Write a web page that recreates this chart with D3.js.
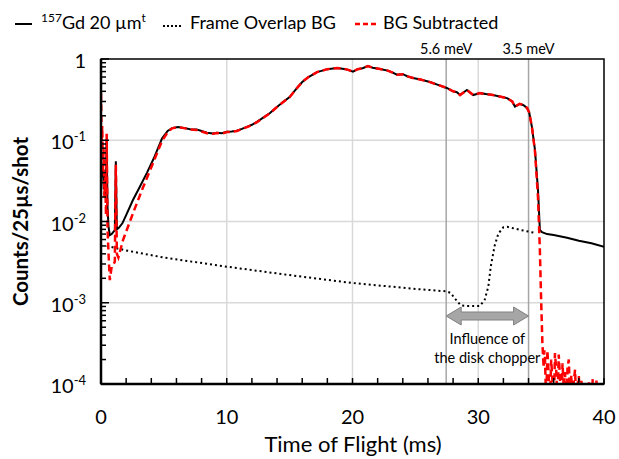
<!DOCTYPE html>
<html><head><meta charset="utf-8">
<script src="https://cdn.jsdelivr.net/npm/d3@7"></script>
<style>
body{margin:0;background:#fff}
text{font-family:Lato,"Open Sans",sans-serif;fill:#000}
</style></head>
<body><svg id="c" width="619" height="459"></svg>
<script>
// ---- data ----
const gdTof = [0.00,0.08,0.15,0.22,0.30,0.38,0.45,0.52,0.60,0.70,0.85,1.00,1.10,1.18,1.26,1.40,1.70,2.00,2.54,3.10,3.66,4.20,4.85,5.30,5.65,6.12,6.60,7.08,7.60,8.00,8.43,8.90,9.22,9.60,10.02,10.40,10.80,11.20,11.60,12.00,12.40,12.90,13.44,13.90,14.47,15.00,15.59,16.00,16.50,17.18,17.60,18.00,18.77,19.20,19.60,20.04,20.40,20.80,21.23,21.60,22.19,22.80,23.20,23.54,24.00,24.40,24.81,25.40,26.16,26.80,27.50,28.00,28.30,28.55,29.10,29.60,30.14,30.60,31.17,31.70,32.29,32.70,32.92,33.30,33.60,33.88,34.05,34.27,34.51,34.75,34.90,35.07,35.47,36.00,37.06,38.00,39.00,40.00];
const gdCounts = [0.060,0.035,0.045,0.025,0.040,0.020,0.10,0.015,0.0085,0.0068,0.0070,0.0075,0.0078,0.055,0.0080,0.0083,0.0095,0.0120,0.0184,0.027,0.040,0.060,0.105,0.130,0.141,0.146,0.142,0.137,0.136,0.130,0.124,0.121,0.124,0.122,0.127,0.128,0.131,0.138,0.146,0.155,0.168,0.190,0.216,0.250,0.295,0.340,0.44,0.52,0.60,0.69,0.72,0.75,0.775,0.76,0.74,0.70,0.75,0.77,0.82,0.78,0.755,0.72,0.68,0.64,0.65,0.61,0.585,0.56,0.52,0.48,0.44,0.40,0.39,0.36,0.415,0.36,0.38,0.37,0.36,0.345,0.33,0.30,0.26,0.28,0.27,0.25,0.22,0.145,0.076,0.0245,0.0079,0.0074,0.0070,0.0068,0.0063,0.0058,0.0054,0.0049];

const bgTof = [0.45,2.0,5.0,10.0,15.0,20.0,25.0,27.5,27.8,28.2,28.6,29.2,30.1,30.5,30.8,31.0,31.3,31.6,32.0,32.3,33.3,34.6];
const bgCounts = [0.0050,0.0044,0.0036,0.00278,0.00219,0.00175,0.00148,0.00138,0.00132,0.00110,0.00093,0.00091,0.00091,0.00107,0.00158,0.00282,0.0050,0.0071,0.0085,0.0086,0.0079,0.0072];

const subTof = [0.00,0.05,0.10,0.15,0.20,0.27,0.33,0.40,0.45,0.52,0.60,0.70,0.85,1.00,1.10,1.18,1.26,1.38,1.75,2.54,3.33,4.13,4.85,5.30,5.65,6.12,6.60,7.08,7.60,8.00,8.43,8.90,9.22,9.60,10.02,10.40,10.80,11.20,11.60,12.00,12.40,12.90,13.44,13.90,14.47,15.00,15.59,16.00,16.50,17.18,17.60,18.00,18.77,19.20,19.60,20.04,20.40,20.80,21.23,21.60,22.19,22.80,23.20,23.54,24.00,24.40,24.81,25.40,26.16,26.80,27.50,28.00,28.30,28.55,29.10,29.60,30.14,30.60,31.17,31.70,32.29,32.70,32.92,33.30,33.60,33.88,34.05,34.27,34.51,34.75,34.90,35.00,35.10,35.20,35.25,35.30,35.40,35.50,35.60,35.70,35.80,35.90,36.00,36.10,36.20,36.30,36.40,36.50,36.60,36.70,36.80,36.90,37.00,37.10,37.20,37.30,37.40,37.50,37.60,37.70,37.80,37.90,38.00,38.10,38.20,38.30,38.40,38.50,38.60,38.70,38.80,38.90,39.00,39.10,39.20,39.30,39.40,39.50,39.60,39.70,39.80,39.90];
const subCounts = [0.38,0.10,0.15,0.04,0.08,0.02,0.035,0.012,0.12,0.008,0.004,0.0019,0.0028,0.0030,0.0032,0.050,0.0040,0.0036,0.0059,0.0126,0.026,0.052,0.098,0.125,0.140,0.145,0.141,0.136,0.134,0.128,0.122,0.120,0.123,0.121,0.126,0.127,0.130,0.137,0.145,0.154,0.167,0.189,0.215,0.249,0.294,0.339,0.44,0.52,0.60,0.69,0.72,0.75,0.775,0.76,0.74,0.70,0.75,0.77,0.82,0.78,0.755,0.72,0.68,0.64,0.65,0.61,0.585,0.56,0.52,0.48,0.44,0.40,0.39,0.36,0.415,0.36,0.38,0.37,0.36,0.345,0.33,0.30,0.26,0.28,0.27,0.25,0.22,0.145,0.073,0.020,0.0045,0.0011,0.00032,0.00016,0.00026,0.00022,0.00006,0.00026,0.00013,0.00005,0.00020,0.00011,0.00004,0.00024,0.00015,0.00006,0.00023,0.00012,0.00003,0.00018,0.00009,0.00014,0.00004,0.00016,0.00020,0.00007,0.00013,0.00003,0.00011,0.00015,0.00005,0.00010,0.000125,0.00004,0.00011,0.00006,0.000105,0.00003,0.00008,0.00004,0.000105,0.00005,0.00003,0.000115,0.00004,0.00006,0.00011,0.00003,0.00005,0.00003,0.00006,0.00004];

const xTicks = [0,10,20,30,40];
const yTicks = [1e-4,1e-3,1e-2,1e-1,1];
const yTickLabels = [["10","-4"],["10","-3"],["10","-2"],["10","-1"],["1",""]];
const energyLines = [27.45,34.0];
const energyLabels = ["5.6 meV","3.5 meV"];

// ---- layout ----
const svg = d3.select("#c");
const L=101,R=604,T=59,B=384;
const x = d3.scaleLinear([0,40],[L,R]);
const y = d3.scaleLog([1e-4,1],[B,T]);

svg.append("defs").append("clipPath").attr("id","clip")
  .append("rect").attr("x",L).attr("y",T).attr("width",R-L).attr("height",B-T);

// grid
const g = svg.append("g");
g.selectAll(".vg").data([10,20,30]).join("line")
  .attr("x1",d=>x(d)).attr("x2",d=>x(d)).attr("y1",T).attr("y2",B)
  .attr("stroke","#d9d9d9").attr("stroke-width",1.5);
g.selectAll(".hg").data([1e-1,1e-2,1e-3]).join("line")
  .attr("x1",L).attr("x2",R).attr("y1",d=>y(d)).attr("y2",d=>y(d))
  .attr("stroke","#d9d9d9").attr("stroke-width",1.5);
g.selectAll(".el").data(energyLines).join("line")
  .attr("x1",d=>x(d)).attr("x2",d=>x(d)).attr("y1",T).attr("y2",B)
  .attr("stroke","#a6a6a6").attr("stroke-width",1.5);
g.selectAll(".et").data(energyLines).join("text")
  .attr("x",d=>x(d)).attr("y",T-5).attr("text-anchor","middle")
  .attr("font-size",14.5).text((d,i)=>energyLabels[i]);

// arrow
const ax1=x(energyLines[0]), ax2=x(energyLines[1]), ay=316, hl=15, hh=9, sh=4;
svg.append("path")
  .attr("d",`M${ax1},${ay} L${ax1+hl},${ay-hh} L${ax1+hl},${ay-sh} L${ax2-hl},${ay-sh} L${ax2-hl},${ay-hh} L${ax2},${ay} L${ax2-hl},${ay+hh} L${ax2-hl},${ay+sh} L${ax1+hl},${ay+sh} L${ax1+hl},${ay+hh} Z`)
  .attr("fill","#a6a6a6").attr("stroke","#808080").attr("stroke-width",1);
svg.append("text").attr("x",(ax1+ax2)/2).attr("y",344).attr("text-anchor","middle").attr("font-size",14.5).text("Influence of");
svg.append("text").attr("x",(ax1+ax2)/2).attr("y",363).attr("text-anchor","middle").attr("font-size",14.5).text("the disk chopper");

// series
const line = d3.line().x(d=>x(d[0])).y(d=>y(d[1]));
const plot = svg.append("g").attr("clip-path","url(#clip)");
plot.append("path").datum(bgTof.map((t,i)=>[t,bgCounts[i]]))
  .attr("d",line).attr("fill","none").attr("stroke","#000").attr("stroke-width",2)
  .attr("stroke-dasharray","2,3");
plot.append("path").datum(gdTof.map((t,i)=>[t,gdCounts[i]]))
  .attr("d",line).attr("fill","none").attr("stroke","#000").attr("stroke-width",2);
plot.append("path").datum(subTof.map((t,i)=>[t,Math.max(subCounts[i],1e-5)]))
  .attr("d",line).attr("fill","none").attr("stroke","#ff0000").attr("stroke-width",2.5)
  .attr("stroke-dasharray","7,4");

// frame
svg.append("rect").attr("x",L).attr("y",T).attr("width",R-L).attr("height",B-T)
  .attr("fill","none").attr("stroke","#000").attr("stroke-width",1.5);
svg.append("line").attr("x1",L).attr("x2",L).attr("y1",T).attr("y2",B).attr("stroke","#000").attr("stroke-width",2.5);
svg.append("line").attr("x1",L).attr("x2",R).attr("y1",B).attr("y2",B).attr("stroke","#000").attr("stroke-width",2.5);

// x minor ticks
const xt = d3.range(0,41,2);
svg.selectAll(".xt").data(xt).join("line")
  .attr("x1",d=>x(d)).attr("x2",d=>x(d)).attr("y1",B).attr("y2",B-6)
  .attr("stroke","#000").attr("stroke-width",1.5);
// y ticks
const ymin=[];
for(let e=-4;e<0;e++) for(let k=2;k<=9;k++) ymin.push(k*Math.pow(10,e));
svg.selectAll(".ytm").data(ymin).join("line")
  .attr("x1",L).attr("x2",L+5).attr("y1",d=>y(d)).attr("y2",d=>y(d))
  .attr("stroke","#000").attr("stroke-width",1.5);
svg.selectAll(".ytM").data(yTicks).join("line")
  .attr("x1",L).attr("x2",L+8).attr("y1",d=>y(d)).attr("y2",d=>y(d))
  .attr("stroke","#000").attr("stroke-width",1.5);

// tick labels
svg.selectAll(".xl").data(xTicks).join("text")
  .attr("x",d=>x(d)).attr("y",424).attr("text-anchor","middle").attr("font-size",20).text(d=>d);
const yl = svg.selectAll(".yl").data(yTicks).join("text")
  .attr("x",86).attr("y",d=>y(d)+9).attr("text-anchor","end").attr("font-size",20);
yl.append("tspan").text((d,i)=>yTickLabels[i][0]);
yl.append("tspan").attr("dy",-8).attr("font-size",13).text((d,i)=>yTickLabels[i][1]);

// axis titles
svg.append("text").attr("x",353).attr("y",452).attr("text-anchor","middle").attr("font-size",22).text("Time of Flight (ms)");
svg.append("text").attr("transform",`translate(28,${(T+B)/2}) rotate(-90)`).attr("text-anchor","middle")
  .attr("font-size",20.5).attr("font-weight","bold").text("Counts/25µs/shot");

// legend
const lg = svg.append("g");
lg.append("line").attr("x1",15).attr("x2",32).attr("y1",24).attr("y2",24).attr("stroke","#000").attr("stroke-width",2);
const t1 = lg.append("text").attr("x",41).attr("y",29).attr("font-size",18);
t1.append("tspan").attr("font-size",12).attr("dy",-7).text("157");
t1.append("tspan").attr("dy",7).text("Gd 20 µm");
t1.append("tspan").attr("font-size",12).attr("dy",-7).text("t");
lg.append("line").attr("x1",163).attr("x2",181).attr("y1",26).attr("y2",26).attr("stroke","#000").attr("stroke-width",2).attr("stroke-dasharray","2,2");
lg.append("text").attr("x",190).attr("y",29).attr("font-size",18).text("Frame Overlap BG");
lg.append("line").attr("x1",355).attr("x2",377).attr("y1",24).attr("y2",24).attr("stroke","#ff0000").attr("stroke-width",2.5).attr("stroke-dasharray","5,3");
lg.append("text").attr("x",383).attr("y",29).attr("font-size",18).text("BG Subtracted");
</script></body></html>
